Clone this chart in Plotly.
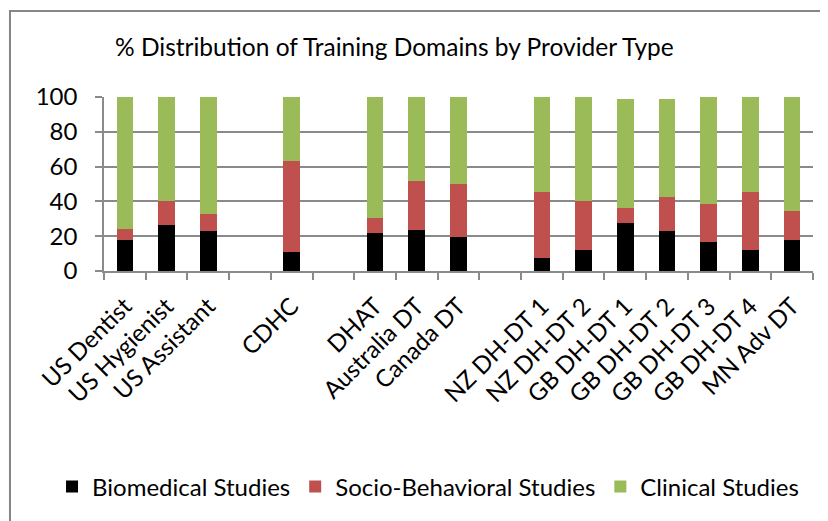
import plotly.graph_objects as go

categories = ["US Dentist", "US Hygienist", "US Assistant", " ", "CDHC", "  ",
              "DHAT", "Australia DT", "Canada DT", "   ",
              "NZ DH-DT 1", "NZ DH-DT 2", "GB DH-DT 1", "GB DH-DT 2",
              "GB DH-DT 3", "GB DH-DT 4", "MN Adv DT"]

biomedical = [18, 26.5, 23, None, 11, None, 22, 23.5, 19.5, None,
              7.5, 12, 27.5, 23, 16.5, 12, 17.7]
socio_behavioral = [6, 13.5, 10, None, 52, None, 8.5, 28.5, 30.5, None,
                    38, 28, 8.5, 19.5, 22, 33.5, 16.5]
clinical = [76, 60, 67, None, 37, None, 69.5, 48, 50, None,
            54.5, 60, 63, 56.5, 61.5, 54.5, 65.8]

y_ticks = [0, 20, 40, 60, 80, 100]

FONT = "Lato, 'Open Sans', sans-serif"
FS = 24
GRID = "#8a8a8a"

fig = go.Figure()
fig.add_bar(x=categories, y=biomedical, name="Biomedical Studies",
            marker=dict(color="#000000", line=dict(width=0)))
fig.add_bar(x=categories, y=socio_behavioral, name="Socio-Behavioral Studies",
            marker=dict(color="#C0504D", line=dict(width=0)))
fig.add_bar(x=categories, y=clinical, name="Clinical Studies",
            marker=dict(color="#9BBB59", line=dict(width=0)))

fig.update_layout(
    width=828, height=521,
    barmode="stack", bargap=0.6,
    paper_bgcolor="white", plot_bgcolor="white",
    margin=dict(l=96, r=23, t=89, b=258, autoexpand=False),
    font=dict(family=FONT, size=FS, color="#000000"),
    title=dict(text="% Distribution of Training Domains by Provider Type",
               x=107 / 828, xanchor="left", xref="container",
               y=1 - 39 / 521, yanchor="middle", yref="container",
               font=dict(family=FONT, size=24.5, color="#000000")),
    showlegend=True,
    legend=dict(orientation="h", x=-0.0733, xanchor="left",
                y=-1.241, yanchor="middle",
                font=dict(family=FONT, size=FS, color="#000000"),
                traceorder="normal", itemwidth=30, bgcolor="rgba(0,0,0,0)"),
    xaxis=dict(type="category", categoryorder="array", categoryarray=categories,
               tickangle=-45, ticks="outside", tickson="boundaries", ticklen=7,
               tickcolor=GRID, tickwidth=1.5, ticklabelstandoff=10,
               showline=True, linecolor=GRID, linewidth=1.5,
               showgrid=False, tickfont=dict(family=FONT, size=FS)),
    yaxis=dict(range=[0, 100], tickvals=y_ticks, ticks="outside", ticklen=7,
               tickcolor=GRID, tickwidth=1.5, ticklabelstandoff=13,
               showline=True, linecolor=GRID, linewidth=1.5,
               showgrid=True, gridcolor=GRID, gridwidth=1.5,
               zeroline=False, tickfont=dict(family=FONT, size=FS)),
)

# chart outer frame (partially clipped at right/bottom as in the reference)
fig.add_shape(type="rect", xref="paper", yref="paper",
              x0=-0.1326, x1=1.2, y0=-1.6, y1=1.494,
              line=dict(color="#868686", width=2), fillcolor="rgba(0,0,0,0)",
              layer="below")

fig.write_html("out.html")
